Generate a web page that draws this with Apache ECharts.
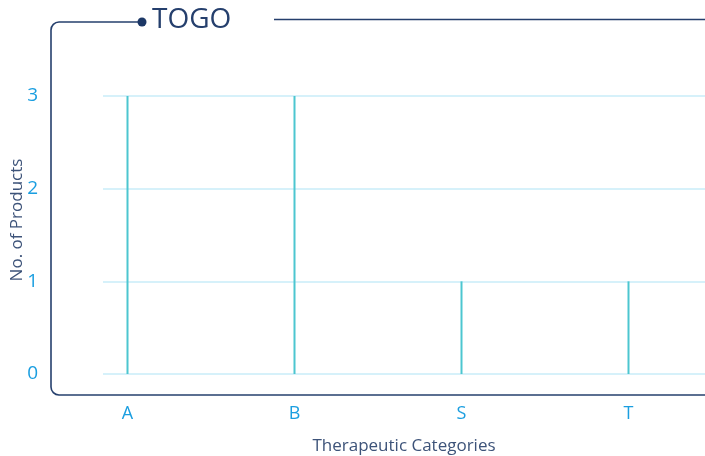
<!DOCTYPE html>
<html>
<head>
<meta charset="utf-8">
<script src="https://cdn.jsdelivr.net/npm/echarts@6/dist/echarts.min.js"></script>
<style>
  html, body { margin: 0; padding: 0; background: #fff; }
  #main { width: 705px; height: 456px; }
</style>
</head>
<body>
<div id="main"></div>
<script>
var categories = ['A', 'B', 'S', 'T'];
var products = [3, 3, 1, 1];
var yTicks = [0, 1, 2, 3];

var font = '"Open Sans", Lato, sans-serif';
var navy = '#253f6d';
var blue = '#1a9ee0';

var chart = echarts.init(document.getElementById('main'));
var option = {
    animation: false,
    textStyle: { fontFamily: font },
    // frame round the plot
    graphic: [
        { type: 'line', shape: { x1: 59, y1: 22, x2: 138, y2: 22 }, style: { stroke: navy, lineWidth: 1.6 } },
        { type: 'arc', shape: { cx: 59, cy: 30, r: 8, startAngle: Math.PI, endAngle: Math.PI * 1.5 }, style: { stroke: navy, lineWidth: 1.6, fill: null } },
        { type: 'line', shape: { x1: 51, y1: 30, x2: 51, y2: 387 }, style: { stroke: navy, lineWidth: 1.6 } },
        { type: 'arc', shape: { cx: 59, cy: 387, r: 8, startAngle: Math.PI / 2, endAngle: Math.PI }, style: { stroke: navy, lineWidth: 1.6, fill: null } },
        { type: 'line', shape: { x1: 59, y1: 395, x2: 705, y2: 395 }, style: { stroke: navy, lineWidth: 1.6 } },
        { type: 'line', shape: { x1: 274, y1: 19.5, x2: 705, y2: 19.5 }, style: { stroke: navy, lineWidth: 1.6 } },
        { type: 'circle', shape: { cx: 142, cy: 22, r: 4.5 }, style: { fill: '#1c3766' } },
        { type: 'text', left: 152, top: 6, style: { text: 'TOGO', fill: navy, font: '28px ' + font } },
        // y axis title
        {
            type: 'text', x: 17, y: 220, rotation: Math.PI / 2,
            style: { text: 'No. of Products', fill: '#3d5379', font: '17px ' + font, align: 'center', verticalAlign: 'middle' }
        }
    ],
    grid: [
        { left: 44, right: -7, top: 96, bottom: 82, outerBoundsMode: 'none' },
        { left: 103, right: 0, top: 96, bottom: 82, outerBoundsMode: 'none' }
    ],
    xAxis: [
        {
            type: 'category', gridIndex: 0, data: categories,
            axisLine: { show: false }, axisTick: { show: false },
            axisLabel: { color: blue, fontSize: 18, margin: 31 }
        },
        {
            type: 'value', gridIndex: 1, min: 0, max: 1,
            axisLine: { show: false }, axisTick: { show: false },
            axisLabel: { show: false }, splitLine: { show: false },
            name: 'Therapeutic Categories', nameLocation: 'middle', nameGap: 64,
            nameTextStyle: { color: '#3d5379', fontSize: 17 }
        }
    ],
    yAxis: [
        {
            type: 'value', gridIndex: 0, min: 0, max: 3,
            axisLine: { show: false }, axisTick: { show: false },
            axisLabel: { show: false }, splitLine: { show: false }
        },
        {
            type: 'value', gridIndex: 1, min: yTicks[0], max: yTicks[yTicks.length - 1], interval: 1,
            axisLine: { show: false }, axisTick: { show: false },
            axisLabel: { color: blue, fontSize: 19, margin: 65 },
            splitLine: { lineStyle: { color: '#c8ecf8', width: 1.5 } }
        }
    ],
    series: [
        {
            type: 'bar', xAxisIndex: 0, yAxisIndex: 0,
            data: products, barWidth: 2,
            itemStyle: { color: '#4cc6d0' }
        }
    ]
};
chart.setOption(option);
</script>
</body>
</html>
